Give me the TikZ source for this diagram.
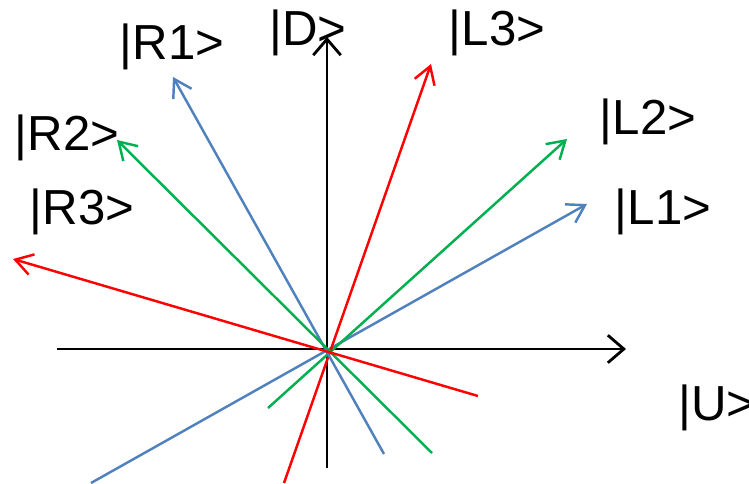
\documentclass[tikz,border=0pt]{standalone}
\usepackage{fontspec}
\setmainfont{Liberation Sans}
\usetikzlibrary{arrows.meta}
\definecolor{cBlue}{RGB}{79,129,189}
\definecolor{cGreen}{RGB}{0,176,80}
\definecolor{cRed}{RGB}{255,0,0}
\tikzset{
	axis/.style ={-{Straight Barb[length=3.2mm, width=5.5mm]}, line width=1.6pt, black},
	vec/.style  ={-{Straight Barb[length=3.4mm, width=4.2mm]}, line width=1.4pt},
	ket/.style  ={inner sep=0pt, font=\fontsize{28}{32}\selectfont},
}
\begin{document}
\begin{tikzpicture}[x=0.02cm, y=-0.02cm]
	\useasboundingbox (0,0) rectangle (749,483);
	\coordinate (o) at (327,350);
	% axes
	\coordinate (uS) at (57,349);  \coordinate (uE) at (626,349);
	\coordinate (dS) at (327,468); \coordinate (dE) at (327,37);
	\draw[axis] (uS) -- (uE); \draw[axis] (dS) -- (dE);
	% left-handed states
	\coordinate (l1S) at (91,483);  \coordinate (l1E) at (587,204);
	\coordinate (l2S) at (268,408); \coordinate (l2E) at (567,139);
	\coordinate (l3S) at (284,483); \coordinate (l3E) at (431,64);
	\draw[vec, cBlue]  (l1S) -- (l1E);
	\draw[vec, cGreen] (l2S) -- (l2E);
	\draw[vec, cRed]   (l3S) -- (l3E);
	% right-handed states
	\coordinate (r1S) at (384,454); \coordinate (r1E) at (173,77);
	\coordinate (r2S) at (432,453); \coordinate (r2E) at (117,140);
	\coordinate (r3S) at (478,396); \coordinate (r3E) at (13,259);
	\draw[vec, cBlue]  (r1S) -- (r1E);
	\draw[vec, cGreen] (r2S) -- (r2E);
	\draw[vec, cRed]   (r3S) -- (r3E);
	% labels
	\node[ket] (kD)  at (308,33)  {|D>};
	\node[ket] (kR1) at (172,47)  {|R1>};
	\node[ket] (kR2) at (67,138)  {|R2>};
	\node[ket] (kR3) at (82,212)  {|R3>};
	\node[ket] (kL3) at (497,33)  {|L3>};
	\node[ket] (kL2) at (648,122) {|L2>};
	\node[ket] (kL1) at (663,212) {|L1>};
	\node[ket, anchor=west] (kU) at (678,408) {|U>};
\end{tikzpicture}
\end{document}
